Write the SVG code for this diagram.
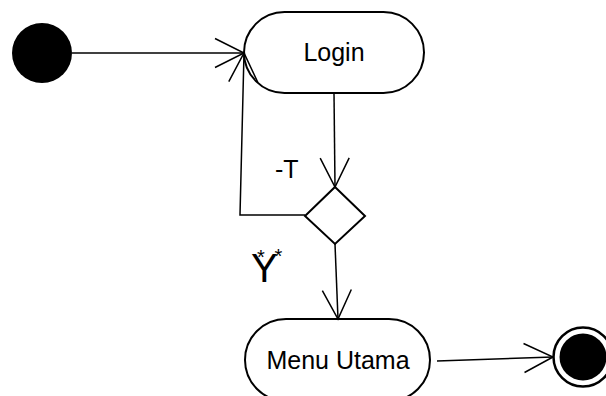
<svg xmlns="http://www.w3.org/2000/svg" width="606" height="396" viewBox="0 0 606 396">
<style>
.node{fill:#fff;stroke:#000;stroke-width:2}
.lbl{font-family:"Liberation Sans",Arial,sans-serif;font-size:25px;fill:#000}
.edge{fill:none;stroke:#000;stroke-width:1.5;marker-end:url(#arr)}
</style>
<defs>
<marker id="arr" markerUnits="userSpaceOnUse" markerWidth="40" markerHeight="40" refX="30" refY="15" orient="auto" overflow="visible">
<path d="M1,0.5 L30,15 L1,29.5" fill="none" stroke="#000" stroke-width="1.5"/>
</marker>
</defs>
<rect width="606" height="396" fill="#fff"/>
<g id="start"><circle cx="42" cy="53" r="30" fill="#000"/></g>
<g id="login">
<rect class="node" x="244" y="12" width="180" height="81" rx="40.5"/>
<text class="lbl" x="334" y="61" text-anchor="middle">Login</text>
</g>
<g id="decision">
<polygon class="node" points="335,187 365,216 335,244 305,216"/>
</g>
<g id="menu">
<rect class="node" x="245" y="319" width="185" height="82" rx="41"/>
<text class="lbl" x="338" y="369" text-anchor="middle">Menu Utama</text>
</g>
<g id="end">
<circle cx="583" cy="357" r="29.5" fill="#fff" stroke="#000" stroke-width="2.5"/>
<circle cx="583" cy="357" r="23.5" fill="#000"/>
</g>
<g id="connectors">
<path class="edge" d="M72,53 L244,53"/>
<path class="edge" d="M334,93 L335,187"/>
<path class="edge" d="M305,215 L240,215 L244,53"/>
<path class="edge" d="M335,244 L338,319"/>
<path class="edge" d="M437,361 L553,357"/>
<text class="lbl" x="275" y="178">-T</text>
<text x="251" y="282" style="font-family:'Liberation Sans',Arial,sans-serif;font-size:40px">Y<tspan x="257" y="263.5" style="font-size:20px">*</tspan><tspan x="274.4" y="262.5" style="font-size:20px">*</tspan></text>
</g>
</svg>
